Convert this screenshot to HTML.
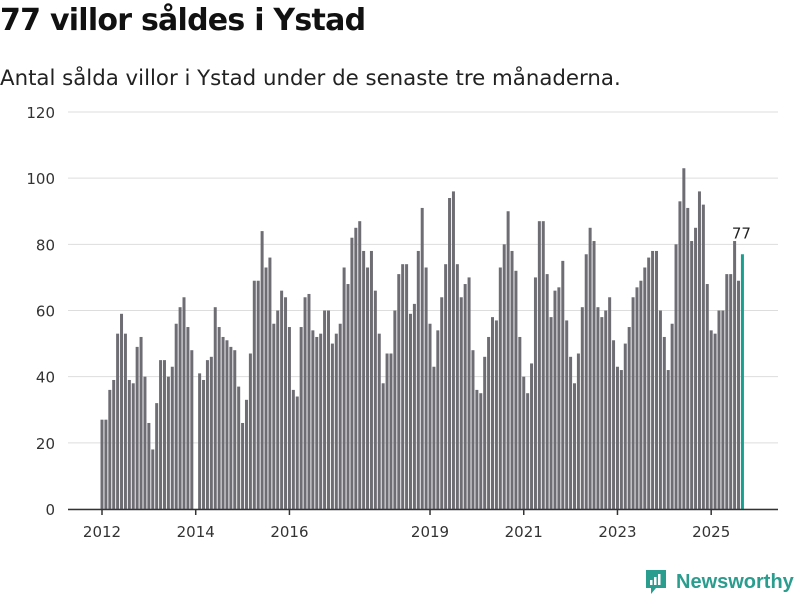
<!DOCTYPE html>
<html><head><meta charset="utf-8">
<style>
body{margin:0;width:800px;height:600px;background:#fff;font-family:"DejaVu Sans","Liberation Sans",sans-serif;overflow:hidden;position:relative}
#title{position:absolute;left:0;top:3px;font-size:30px;font-weight:bold;color:#111;margin:0;white-space:nowrap;font-family:"DejaVu Sans",sans-serif;letter-spacing:-0.75px}
#sub{position:absolute;left:0;top:66px;font-size:21.3px;color:#222;white-space:nowrap;font-family:"DejaVu Sans",sans-serif}
svg{position:absolute;left:0;top:0}
#logo{position:absolute;left:644px;top:568px;display:flex;align-items:center}
</style></head><body>
<h1 id="title">77 villor såldes i Ystad</h1>
<div id="sub">Antal sålda villor i Ystad under de senaste tre månaderna.</div>
<svg id="chart" width="800" height="600"></svg>
<div id="logo">
<svg width="24" height="28" viewBox="0 0 24 28" style="position:static"><path d="M2 2h20v18H12l-5 6v-6H2z" fill="#2a9d8f"/><rect x="6" y="12" width="2.5" height="5" fill="#fff"/><rect x="10" y="9" width="2.5" height="8" fill="#fff"/><rect x="14" y="6" width="2.5" height="11" fill="#fff"/></svg>
<span style="color:#2a9d8f;font-size:20px;font-weight:bold;margin-left:8px;font-family:'Liberation Sans',sans-serif">Newsworthy</span>
</div>
<script>
const years=["2012","2013","2014","2015","2016","2017","2018","2019","2020","2021","2022","2023","2024","2025"];
const values=[27,27,36,39,53,59,53,39,38,49,52,40,
26,18,32,45,45,40,43,56,61,64,55,48,
null,41,39,45,46,61,55,52,51,49,48,37,
26,33,47,69,69,84,73,76,56,60,66,64,
55,36,34,55,64,65,54,52,53,60,60,50,
53,56,73,68,82,85,87,78,73,78,66,53,
38,47,47,60,71,74,74,59,62,78,91,73,
56,43,54,64,74,94,96,74,64,68,70,48,
36,35,46,52,58,57,73,80,90,78,72,52,
40,35,44,70,87,87,71,58,66,67,75,57,
46,38,47,61,77,85,81,61,58,60,64,51,
43,42,50,55,64,67,69,73,76,78,78,60,
52,42,56,80,93,103,91,81,85,96,92,68,
54,53,60,60,71,71,81,69,77];
const yTicks=[0,20,40,60,80,100,120];
const xTickYears=["2012","2014","2016","2019","2021","2023","2025"];
const svg=document.getElementById('chart');
const NS="http://www.w3.org/2000/svg";
const y=v=>509-v*(397/120);
const x=i=>102+i*3.905;
function el(t,a){const e=document.createElementNS(NS,t);for(const k in a)e.setAttribute(k,a[k]);svg.appendChild(e);return e;}
yTicks.forEach(t=>{
  const g=el('line',{x1:68,x2:778,y1:y(t),y2:y(t),stroke:'#dddddd','stroke-width':1});
  
  
  const l=el('text',{x:55,y:y(t)+6,'text-anchor':'end','font-size':15,fill:'#333','font-family':'DejaVu Sans, sans-serif'});
  l.textContent=t;
  
  
});
values.forEach((v,i)=>{
  if(v===null)return;
  const last=i===values.length-1;
  const r=el('rect',{x:x(i)-1.5,y:y(v),width:3,height:509-y(v),fill:last?'#1a9e8f':'#6e6d74'});
  
  
});
const li=values.length-1;
const lab=el('text',{x:x(li)-1,y:y(values[li])-16,'text-anchor':'middle','font-size':15,fill:'#222','font-family':'DejaVu Sans, sans-serif'});
lab.textContent=values[li];


const ax=el('line',{x1:68,x2:778,y1:509.5,y2:509.5,stroke:'#333','stroke-width':1.5});


xTickYears.forEach(yr=>{
  const i=years.indexOf(yr)*12;
  const t=el('line',{x1:x(i),x2:x(i),y1:509,y2:515,stroke:'#333','stroke-width':1.5});
  
  
  const l=el('text',{x:x(i),y:537,'text-anchor':'middle','font-size':15,fill:'#333','font-family':'DejaVu Sans, sans-serif'});
  l.textContent=yr;
  
  
});
</script>
</body></html>
